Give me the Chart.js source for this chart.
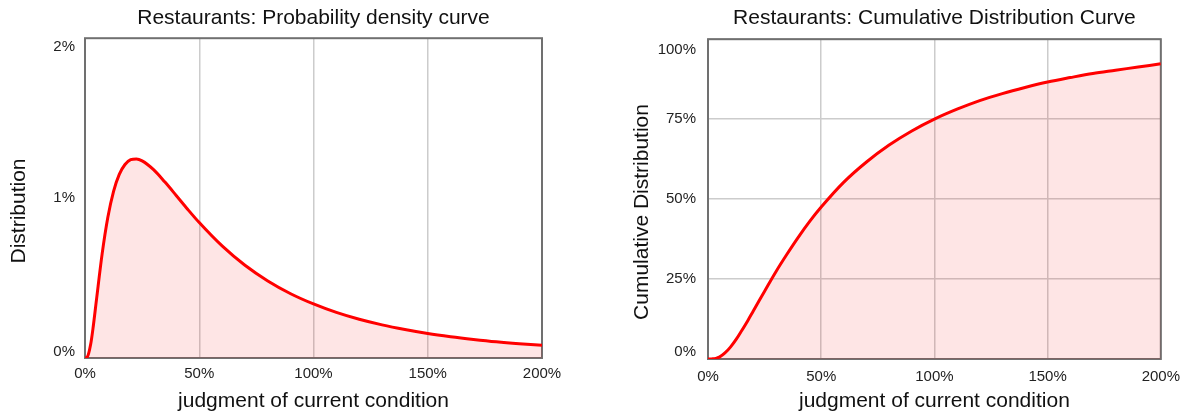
<!DOCTYPE html>
<html>
<head>
<meta charset="utf-8">
<script src="https://cdn.jsdelivr.net/npm/chart.js@4"></script>
<style>
  html, body { margin: 0; padding: 0; background: #fff; overflow: hidden; }
  .wrap { position: absolute; top: 0; height: 418px; }
  #left-wrap { left: 0; width: 594px; }
  #right-wrap { left: 594px; width: 595px; }
</style>
</head>
<body>
<div class="wrap" id="left-wrap"><canvas id="pdfChart" width="594" height="418"></canvas></div>
<div class="wrap" id="right-wrap"><canvas id="cdfChart" width="595" height="418"></canvas></div>
<script>
// ========== DATA ==========
// x = judgment of current condition, in %
const xValues = [0, 1, 2.5, 3.5, 5, 7.5, 10, 12.5, 15, 17.5, 20, 22.5, 25, 30, 35, 40, 45, 50,
  60, 70, 80, 90, 100, 110, 120, 130, 140, 150, 160, 170, 180, 190, 200];

// probability density, in %
const pdfValues = [0, 0.006, 0.087, 0.185, 0.362, 0.651, 0.880, 1.042, 1.148, 1.210, 1.240, 1.245, 1.233, 1.178, 1.100, 1.015, 0.929, 0.847,
  0.701, 0.580, 0.482, 0.402, 0.338, 0.285, 0.242, 0.207, 0.178, 0.153, 0.133, 0.116, 0.101, 0.089, 0.079];

// cumulative distribution, in %
const cdfValues = [0, 0, 0.1, 0.2, 0.6, 1.9, 3.8, 6.2, 9.0, 11.9, 15.0, 18.1, 21.2, 27.3, 32.9, 38.2, 43.1, 47.5,
  55.3, 61.6, 66.9, 71.3, 75.0, 78.1, 80.8, 83.0, 84.9, 86.6, 88.0, 89.3, 90.3, 91.3, 92.3];

const xTicks   = [0, 50, 100, 150, 200];
const pdfTicks = [0, 1, 2];
const cdfTicks = [0, 25, 50, 75, 100];

const pdfTitle = "Restaurants: Probability density curve";
const cdfTitle = "Restaurants: Cumulative Distribution Curve";
const xTitle   = "judgment of current condition";

// ========== COMMON STYLE ==========
const FONT = "'Liberation Sans', Arial, sans-serif";
Chart.defaults.font.family = FONT;
Chart.defaults.color = "#222";

const RED  = "#ff0000";
const FILL = "rgba(250,0,0,0.1)";
const GRID = "#cccccc";

// frame around plot area, drawn under the curve
const framePlugin = {
  id: "frame",
  beforeDatasetsDraw(chart) {
    const { ctx, chartArea: a } = chart;
    ctx.save();
    ctx.strokeStyle = "#707070";
    ctx.lineWidth = 2;
    ctx.strokeRect(a.left, a.top, a.right - a.left, a.bottom - a.top);
    ctx.restore();
  }
};

// y tick labels (end labels pulled inside the frame) + y axis title
function yTextPlugin(cfg) {
  return {
    id: "yText",
    afterDraw(chart) {
      const { ctx } = chart;
      const s = chart.scales.y;
      ctx.save();
      ctx.fillStyle = "#222";
      ctx.font = "15px " + FONT;
      ctx.textAlign = "right";
      ctx.textBaseline = "middle";
      cfg.yTicks.forEach(v => {
        let y = s.getPixelForValue(v);
        if (v === s.min) y -= cfg.endNudge[0];
        if (v === s.max) y += cfg.endNudge[1];
        ctx.fillText(v + "%", s.right - cfg.yTickPad, y);
      });
      // rotated axis title
      ctx.fillStyle = "#111";
      ctx.font = "21px " + FONT;
      ctx.textAlign = "center";
      ctx.textBaseline = "middle";
      ctx.translate(cfg.yTitlePos[0], cfg.yTitlePos[1]);
      ctx.rotate(-Math.PI / 2);
      ctx.fillText(cfg.yTitle, 0, 0);
      ctx.restore();
    }
  };
}

function points(ys) {
  return xValues.map((x, i) => ({ x: x, y: ys[i] }));
}

function makeChart(canvasId, cfg) {
  const ctx = document.getElementById(canvasId).getContext("2d");
  return new Chart(ctx, {
    type: "line",
    data: {
      datasets: [{
        data: points(cfg.values),
        borderColor: RED,
        backgroundColor: FILL,
        borderWidth: 3,
        fill: "origin",
        pointRadius: 0,
        cubicInterpolationMode: "monotone"
      }]
    },
    options: {
      responsive: false,
      animation: false,
      events: [],
      layout: { padding: cfg.padding },
      plugins: {
        legend: { display: false },
        tooltip: { enabled: false },
        title: {
          display: true,
          text: cfg.title,
          fullSize: false,
          color: "#111",
          font: { size: 21, weight: "normal" },
          padding: { top: 6, bottom: cfg.titleGap }
        }
      },
      scales: {
        x: {
          type: "linear",
          min: 0,
          max: 200,
          afterBuildTicks: s => { s.ticks = xTicks.map(v => ({ value: v })); },
          afterFit: s => { s.height = cfg.xHeight; },
          border: { display: false },
          grid: { color: GRID, lineWidth: 1.5, drawTicks: false },
          ticks: {
            padding: cfg.xTickPad,
            font: { size: 15 },
            color: "#222",
            maxRotation: 0,
            callback: v => v + "%"
          },
          title: {
            display: true,
            text: xTitle,
            color: "#111",
            font: { size: 21 },
            padding: { top: 0, bottom: 4 }
          }
        },
        y: {
          type: "linear",
          min: 0,
          max: cfg.yMax,
          afterBuildTicks: s => { s.ticks = cfg.yTicks.map(v => ({ value: v })); },
          afterFit: s => { s.width = cfg.yWidth; },
          border: { display: false },
          grid: { display: cfg.yGrid, color: GRID, lineWidth: 1.5, drawTicks: false },
          ticks: { display: false }
        }
      }
    },
    plugins: [framePlugin, yTextPlugin(cfg)]
  });
}

// ========== LEFT: PROBABILITY DENSITY ==========
makeChart("pdfChart", {
  values: pdfValues,
  title: pdfTitle,
  yTitle: "Distribution",
  yMax: 2,
  yTicks: pdfTicks,
  yGrid: false,
  padding: { left: 0, right: 52, top: 0, bottom: 0 },
  titleGap: 7,
  xHeight: 60,
  yWidth: 85,
  xTickPad: 7,
  yTickPad: 10,
  endNudge: [6, 9],
  yTitlePos: [19, 211]
});

// ========== RIGHT: CUMULATIVE DISTRIBUTION ==========
makeChart("cdfChart", {
  values: cdfValues,
  title: cdfTitle,
  yTitle: "Cumulative Distribution",
  yMax: 100,
  yTicks: cdfTicks,
  yGrid: true,
  padding: { left: 30, right: 25, top: 0, bottom: 0 },
  titleGap: 8,
  xHeight: 59,
  yWidth: 84,
  xTickPad: 9,
  yTickPad: 12,
  endNudge: [7, 11],
  yTitlePos: [48, 212]
});
</script>
</body>
</html>
